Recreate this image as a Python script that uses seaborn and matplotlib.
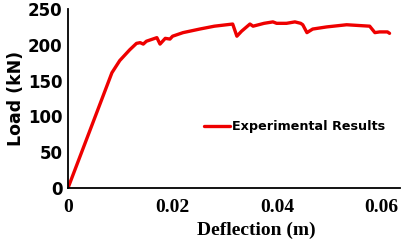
import matplotlib
matplotlib.use("Agg")
import matplotlib.pyplot as plt
import seaborn as sns
import pandas as pd

deflection = [0.0, 0.0084, 0.0099, 0.0118, 0.0131, 0.0138, 0.0144, 0.0150, 0.0162, 0.0170,
              0.0176, 0.0186, 0.0195, 0.0200, 0.0220, 0.0252, 0.0280, 0.0315, 0.0323,
              0.0332, 0.0348, 0.0354, 0.0375, 0.0392, 0.0399, 0.0418, 0.0434, 0.0445,
              0.0449, 0.0457, 0.0468, 0.0495, 0.0533, 0.0577, 0.0587, 0.0596, 0.0611, 0.0615]
load = [0, 161, 178, 193, 202, 203, 201, 205, 208, 210,
        201, 209, 208, 212, 217, 222, 226, 229, 212,
        219, 229, 226, 230, 232, 230, 230, 232, 230,
        228, 217, 222, 225, 228, 226, 217, 218, 218, 216]

df = pd.DataFrame({"Deflection (m)": deflection, "Load (kN)": load,
                   "series": ["Experimental Results"] * len(load)})

sns.set_theme(style="white")
plt.rcParams["font.family"] = ["DejaVu Sans"]
plt.rcParams["text.color"] = "black"
plt.rcParams["axes.labelcolor"] = "black"
plt.rcParams["xtick.color"] = "black"
plt.rcParams["ytick.color"] = "black"

fig = plt.figure(figsize=(4.01, 2.44), dpi=100)
ax = fig.add_axes([68/401, (244-188)/244, (400-68)/401, (188-9)/244])

sns.lineplot(data=df, x="Deflection (m)", y="Load (kN)", hue="series",
             palette=["#ee0000"], sort=False, estimator=None, linewidth=2.4, ax=ax)

ax.set_xlim(0, 0.0635)
ax.set_ylim(0, 250)
ax.set_xticks([0, 0.02, 0.04, 0.06])
ax.set_xticklabels(["0", "0.02", "0.04", "0.06"], family="Liberation Serif",
                   fontweight="bold", fontsize=14, color="black")
ax.set_yticks([0, 50, 100, 150, 200, 250])
ax.set_yticklabels(["0", "50", "100", "150", "200", "250"], fontweight="bold",
                   fontsize=12, color="black")
ax.tick_params(axis="both", length=0)
ax.tick_params(axis="y", pad=4)
ax.tick_params(axis="x", pad=8)

for s in ["top", "right"]:
    ax.spines[s].set_visible(False)
for s in ["left", "bottom"]:
    ax.spines[s].set_color("black")
    ax.spines[s].set_linewidth(1.3)

ax.set_xlabel("Deflection (m)", family="Liberation Serif", fontweight="bold",
              fontsize=14, color="black", va="top")
ax.xaxis.set_label_coords((256-68)/332, (188-222)/179)
ax.set_ylabel("Load (kN)", fontweight="bold", fontsize=12.5, labelpad=2, color="black")

leg = ax.legend(loc="center left", bbox_to_anchor=(0.41, 0.343), frameon=False,
                handlelength=2.05, handletextpad=0.15, borderpad=0, borderaxespad=0,
                prop={"weight": "bold", "size": 9.2})
for line in leg.get_lines():
    line.set_linewidth(2.4)
for t in leg.get_texts():
    t.set_color("black")

fig.savefig("out.png", dpi=100)
